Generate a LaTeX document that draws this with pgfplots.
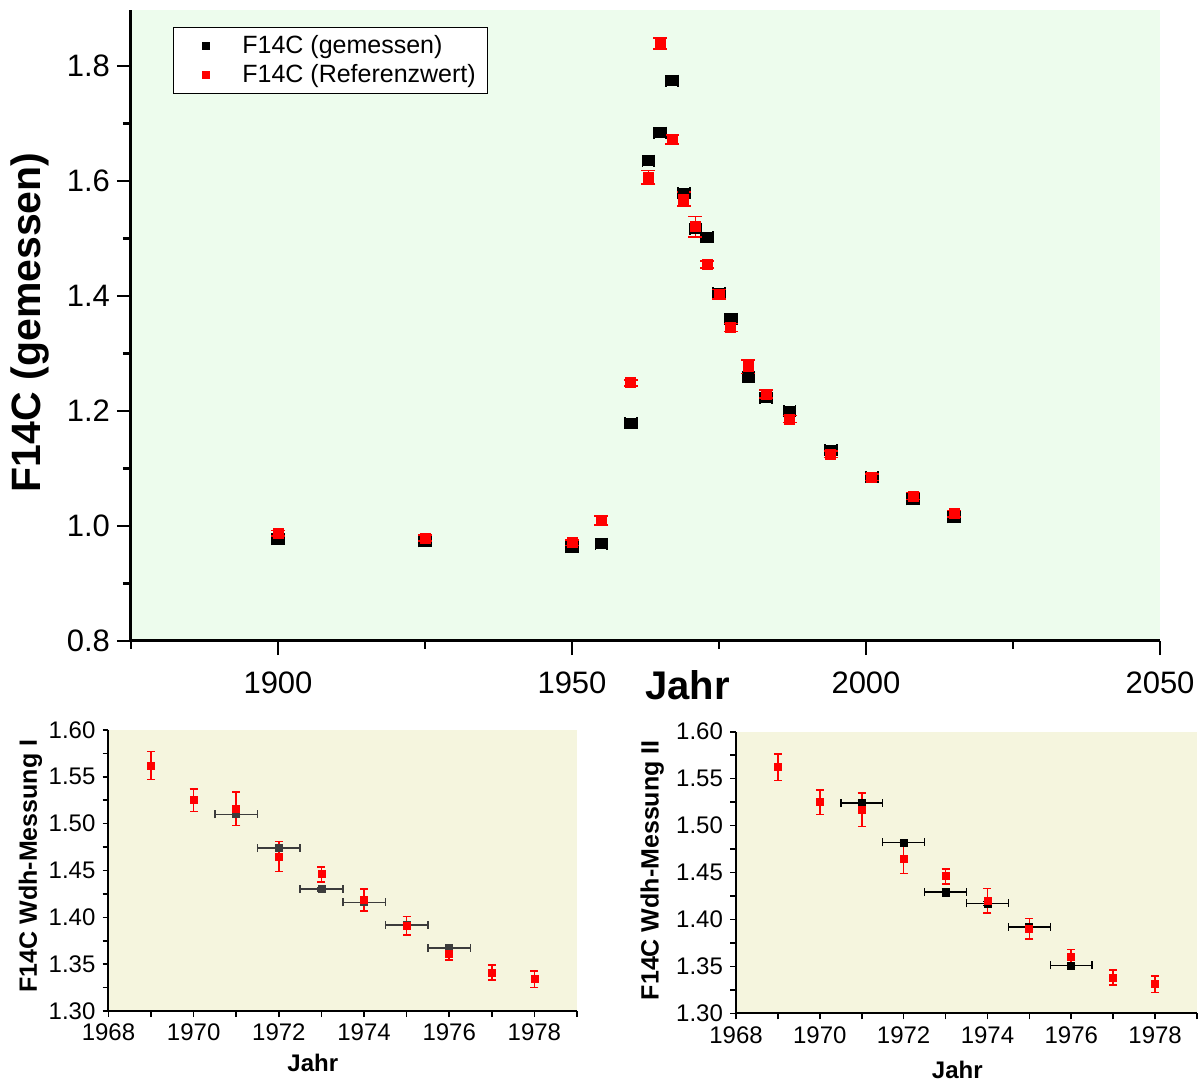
\documentclass[border=0pt]{standalone}
\usepackage{fontspec}
\setmainfont{Liberation Sans}
\usepackage{pgfplots}
\pgfplotsset{compat=1.18}

\definecolor{bggreen}{RGB}{237,252,237}
\definecolor{bgbeige}{RGB}{245,245,222}
\definecolor{dgray}{RGB}{60,60,60}

\pgfplotsset{
  originstyle/.style={
    scale only axis, clip=false,
    axis x line*=bottom, axis y line*=left,
    tick align=outside,
    /pgf/number format/assume math mode=true,
    /pgf/number format/1000 sep={},
  },
}

\begin{document}
\begin{tikzpicture}
\useasboundingbox (0,0) rectangle (602pt,541pt);

% main plot
\begin{axis}[originstyle,
  at={(65.5pt,220.5pt)}, anchor=south west,
  width=514.5pt, height=315.5pt,
  xmin=1875, xmax=2050, ymin=0.8, ymax=1.897,
  xtick={1900,1950,2000,2050}, minor xtick={1875,1925,1975,2025},
  ytick={0.8,1.0,1.2,1.4,1.6,1.8}, minor ytick={0.9,1.1,1.3,1.5,1.7},
  yticklabel style={/pgf/number format/.cd, fixed, fixed zerofill, precision=1},
  xticklabel style={yshift=-5pt},
  tick label style={font=\fontsize{15.5}{15.5}\selectfont},
  major tick length=7pt, minor tick length=4pt,
  every tick/.style={black, line width=1.2pt},
  axis line style={line width=1.5pt},
  axis background/.style={fill=bggreen},
  xlabel={Jahr}, ylabel={F14C (gemessen)},
  x label style={at={(axis description cs:0.541,-0.0697)}, anchor=center, font=\fontsize{20}{20}\selectfont\bfseries},
  y label style={at={(axis description cs:-0.0982,0.505)}, anchor=center, font=\fontsize{20.5}{20.5}\selectfont\bfseries},
  legend style={at={(axis description cs:0.041,0.9735)}, anchor=north west,
    draw=black, fill=white, font=\fontsize{12.5}{15}\selectfont,
    inner xsep=4pt, inner ysep=2pt, row sep=0pt},
  legend cell align=left,
  legend image code/.code={%
    \draw[#1, mark size=1.8pt] plot coordinates {(12pt,0pt)};
    \path (0pt,0pt) (28pt,0pt);},
]
\addplot[only marks, mark=square*, mark size=2.5pt, black,
  error bars/.cd, x dir=both, x explicit, y dir=both, y explicit,
  error bar style={line width=0.9pt, black},
  error mark options={rotate=90, mark size=3pt, line width=0.9pt}]
coordinates {
  (1900,0.977) +- (1,0.006)
  (1925,0.973) +- (1,0.006)
  (1950,0.963) +- (1,0.006)
  (1955,0.969) +- (1,0.006)
  (1960,1.179) +- (1,0.007)
  (1963,1.635) +- (1,0.008)
  (1965,1.684) +- (1,0.008)
  (1967,1.774) +- (1,0.008)
  (1969,1.578) +- (1,0.008)
  (1971,1.517) +- (1,0.008)
  (1973,1.502) +- (1,0.008)
  (1975,1.405) +- (1,0.007)
  (1977,1.360) +- (1,0.007)
  (1980,1.259) +- (1,0.007)
  (1983,1.223) +- (1,0.007)
  (1987,1.199) +- (1,0.007)
  (1994,1.132) +- (1,0.007)
  (2001,1.085) +- (1,0.006)
  (2008,1.046) +- (1,0.006)
  (2015,1.015) +- (1,0.006)
};
\addlegendentry{F14C (gemessen)}
\addplot[only marks, mark=square*, mark size=2.5pt, red,
  error bars/.cd, y dir=both, y explicit,
  error bar style={line width=0.9pt, red},
  error mark options={rotate=90, mark size=3.5pt, line width=0.9pt}]
coordinates {
  (1900,0.987) +- (0,0.005)
  (1925,0.979) +- (0,0.005)
  (1950,0.971) +- (0,0.005)
  (1955,1.009) +- (0,0.008)
  (1960,1.249) +- (0,0.005)
  (1963,1.606) +- (0,0.012)
  (1965,1.839) +- (0,0.010)
  (1967,1.672) +- (0,0.008)
  (1969,1.568) +- (0,0.012)
  (1971,1.520) +- (0,0.018)
  (1973,1.454) +- (0,0.006)
  (1975,1.403) +- (0,0.008)
  (1977,1.345) +- (0,0.007)
  (1980,1.277) +- (0,0.012)
  (1983,1.229) +- (0,0.007)
  (1987,1.186) +- (0,0.006)
  (1994,1.125) +- (0,0.006)
  (2001,1.085) +- (0,0.006)
  (2008,1.052) +- (0,0.006)
  (2015,1.021) +- (0,0.006)
};
\addlegendentry{F14C (Referenzwert)}
\end{axis}

% lower left
\begin{axis}[originstyle,
  at={(54.25pt,35.5pt)}, anchor=south west,
  width=234.25pt, height=140.5pt,
  xmin=1968, xmax=1979, ymin=1.30, ymax=1.60,
  xtick={1968,1970,1972,1974,1976,1978}, minor xtick={1969,1971,1973,1975,1977,1979},
  ytick={1.30,1.35,1.40,1.45,1.50,1.55,1.60},
  minor ytick={1.325,1.375,1.425,1.475,1.525,1.575},
  yticklabel style={/pgf/number format/.cd, fixed, fixed zerofill, precision=2},
  tick label style={font=\fontsize{12}{12}\selectfont},
  major tick length=3pt, minor tick length=3pt,
  every tick/.style={black, line width=0.8pt},
  axis line style={line width=1pt},
  axis background/.style={fill=bgbeige},
  xlabel={Jahr}, ylabel={F14C Wdh-Messung I},
  x label style={at={(axis description cs:0.436,-0.185)}, anchor=center, font=\fontsize{12}{12}\selectfont\bfseries},
  y label style={at={(axis description cs:-0.1665,0.516)}, anchor=center, font=\fontsize{12.5}{12.5}\selectfont\bfseries},
]
\addplot[only marks, mark=square*, mark size=1.75pt, dgray,
  error bars/.cd, x dir=both, x explicit, y dir=both, y explicit,
  error bar style={line width=0.8pt, dgray},
  error mark options={rotate=90, mark size=2pt, line width=0.8pt}]
coordinates {
  (1971,1.510) +- (0.5,0.002)
  (1972,1.474) +- (0.5,0.002)
  (1973,1.430) +- (0.5,0.002)
  (1974,1.416) +- (0.5,0.002)
  (1975,1.392) +- (0.5,0.002)
  (1976,1.367) +- (0.5,0.002)
};
\addplot[only marks, mark=square*, mark size=1.75pt, red,
  error bars/.cd, y dir=both, y explicit,
  error bar style={line width=0.8pt, red},
  error mark options={rotate=90, mark size=2pt, line width=0.8pt}]
coordinates {
  (1969,1.562) +- (0,0.015)
  (1970,1.525) +- (0,0.012)
  (1971,1.516) +- (0,0.018)
  (1972,1.465) +- (0,0.016)
  (1973,1.446) +- (0,0.008)
  (1974,1.4185) +- (0,0.012)
  (1975,1.391) +- (0,0.010)
  (1976,1.3605) +- (0,0.006)
  (1977,1.341) +- (0,0.008)
  (1978,1.334) +- (0,0.009)
};
\end{axis}

% lower right
\begin{axis}[originstyle,
  at={(368pt,34.35pt)}, anchor=south west,
  width=230.5pt, height=140.8pt,
  xmin=1968, xmax=1979, ymin=1.30, ymax=1.60,
  xtick={1968,1970,1972,1974,1976,1978}, minor xtick={1969,1971,1973,1975,1977,1979},
  ytick={1.30,1.35,1.40,1.45,1.50,1.55,1.60},
  minor ytick={1.325,1.375,1.425,1.475,1.525,1.575},
  yticklabel style={/pgf/number format/.cd, fixed, fixed zerofill, precision=2},
  tick label style={font=\fontsize{12}{12}\selectfont},
  major tick length=3pt, minor tick length=3pt,
  every tick/.style={black, line width=0.8pt},
  axis line style={line width=1pt},
  axis background/.style={fill=bgbeige},
  xlabel={Jahr}, ylabel={F14C Wdh-Messung II},
  x label style={at={(axis description cs:0.48,-0.2024)}, anchor=center, font=\fontsize{12}{12}\selectfont\bfseries},
  y label style={at={(axis description cs:-0.182,0.508)}, anchor=center, font=\fontsize{12.5}{12.5}\selectfont\bfseries},
]
\addplot[only marks, mark=square*, mark size=1.75pt, black,
  error bars/.cd, x dir=both, x explicit, y dir=both, y explicit,
  error bar style={line width=0.8pt, black},
  error mark options={rotate=90, mark size=2pt, line width=0.8pt}]
coordinates {
  (1971,1.524) +- (0.5,0.002)
  (1972,1.482) +- (0.5,0.002)
  (1973,1.429) +- (0.5,0.004)
  (1974,1.417) +- (0.5,0.002)
  (1975,1.392) +- (0.5,0.002)
  (1976,1.351) +- (0.5,0.002)
};
\addplot[only marks, mark=square*, mark size=1.75pt, red,
  error bars/.cd, y dir=both, y explicit,
  error bar style={line width=0.8pt, red},
  error mark options={rotate=90, mark size=2pt, line width=0.8pt}]
coordinates {
  (1969,1.562) +- (0,0.014)
  (1970,1.525) +- (0,0.013)
  (1971,1.517) +- (0,0.018)
  (1972,1.465) +- (0,0.016)
  (1973,1.446) +- (0,0.008)
  (1974,1.420) +- (0,0.013)
  (1975,1.390) +- (0,0.011)
  (1976,1.360) +- (0,0.008)
  (1977,1.338) +- (0,0.008)
  (1978,1.331) +- (0,0.009)
};
\end{axis}
\end{tikzpicture}
\end{document}
